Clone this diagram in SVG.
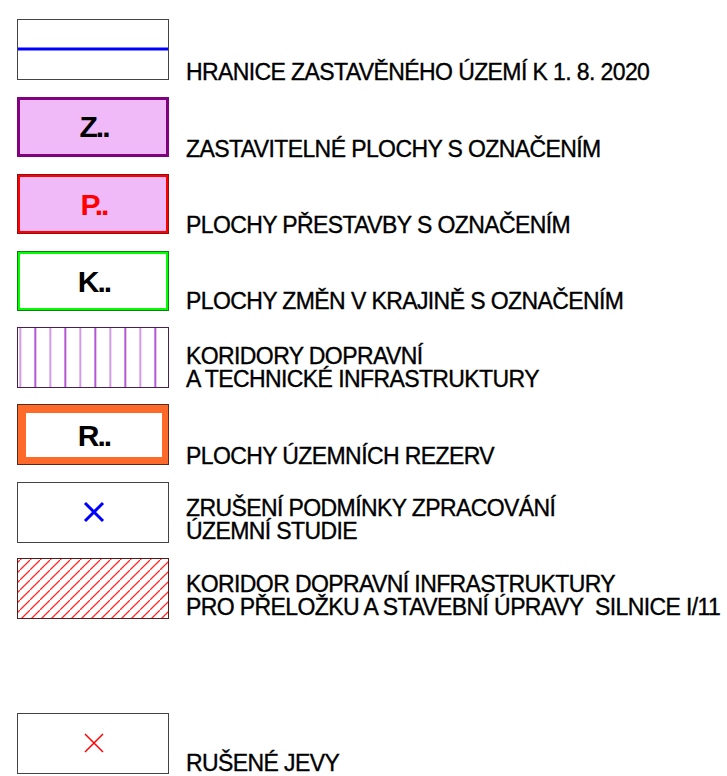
<svg xmlns="http://www.w3.org/2000/svg" width="727" height="776" viewBox="0 0 727 776">
<style>
.lbl{font-family:"Liberation Sans",Arial,sans-serif;font-size:23px;letter-spacing:-0.6px;fill:#000;stroke:#000;stroke-width:0.35px}
.code{font-family:"Liberation Sans",Arial,sans-serif;font-size:30px;font-weight:bold;letter-spacing:-2px;text-anchor:middle}
.frame{fill:#fff;stroke:#444;stroke-width:1}
</style>
<defs>
<pattern id="vh" x="4.5" y="0" width="30" height="10" patternUnits="userSpaceOnUse">
<rect x="0" y="0" width="1.5" height="10" fill="#9a1fc6"/>
<rect x="15" y="0" width="1.5" height="10" fill="#c47ada"/>
</pattern>
<pattern id="dh" x="0" y="0" width="10" height="10" patternUnits="userSpaceOnUse">
<line x1="-2" y1="12" x2="12" y2="-2" stroke="#ff2a2a" stroke-width="1.3"/>
</pattern>
</defs>
<g id="n1">
<rect class="frame" x="17.5" y="19.5" width="151" height="60"/>
<line x1="18" y1="49" x2="168" y2="49" stroke="#0000ff" stroke-width="3"/>
<text class="lbl" x="186" y="80">HRANICE ZASTAVĚNÉHO ÚZEMÍ K 1. 8. 2020</text>
</g>
<g id="n2">
<rect x="18.5" y="98.5" width="149" height="57" fill="#f0baf9" stroke="#800080" stroke-width="3"/>
<text class="code" x="94" y="137" fill="#000">Z..</text>
<text class="lbl" x="186" y="157">ZASTAVITELNÉ PLOCHY S OZNAČENÍM</text>
</g>
<g id="n3">
<rect x="18.5" y="175.5" width="149" height="57" fill="#f0baf9" stroke="#ff0000" stroke-width="3"/>
<rect x="17.5" y="174.5" width="151" height="59" fill="none" stroke="#6a1a1a" stroke-width="0.8"/>
<text class="code" x="94" y="215" fill="#ff0000">P..</text>
<text class="lbl" x="186" y="233">PLOCHY PŘESTAVBY S OZNAČENÍM</text>
</g>
<g id="n4">
<rect x="18.5" y="252.5" width="149" height="57" fill="#fff" stroke="#00ff00" stroke-width="3"/>
<rect x="17.5" y="251.5" width="151" height="59" fill="none" stroke="#1a5a1a" stroke-width="0.8"/>
<text class="code" x="94" y="292" fill="#000">K..</text>
<text class="lbl" x="186" y="309">PLOCHY ZMĚN V KRAJINĚ S OZNAČENÍM</text>
</g>
<g id="n5">
<rect x="17.5" y="327.5" width="151" height="60" fill="#fff"/>
<rect x="17.5" y="327.5" width="151" height="60" fill="url(#vh)" stroke="#4a2050" stroke-width="1"/>
<text class="lbl" x="186" y="364">KORIDORY DOPRAVNÍ</text>
<text class="lbl" x="186" y="387">A TECHNICKÉ INFRASTRUKTURY</text>
</g>
<g id="n6">
<rect x="17.5" y="404.5" width="151" height="60" fill="#ff6a2b" stroke="#5a2a1a" stroke-width="1"/>
<rect x="26" y="413" width="136" height="44" fill="#fff"/>
<text class="code" x="94" y="446" fill="#000">R..</text>
<text class="lbl" x="186" y="464">PLOCHY ÚZEMNÍCH REZERV</text>
</g>
<g id="n7">
<rect class="frame" x="17.5" y="482.5" width="151" height="60"/>
<path d="M85 503 L103 521 M103 503 L85 521" stroke="#0000ff" stroke-width="3" fill="none"/>
<text class="lbl" x="186" y="516">ZRUŠENÍ PODMÍNKY ZPRACOVÁNÍ</text>
<text class="lbl" x="186" y="539">ÚZEMNÍ STUDIE</text>
</g>
<g id="n8">
<rect x="17.5" y="558.5" width="151" height="60" fill="#fff"/>
<rect x="17.5" y="558.5" width="151" height="60" fill="url(#dh)" stroke="#5a1a1a" stroke-width="1"/>
<text class="lbl" x="186" y="592">KORIDOR DOPRAVNÍ INFRASTRUKTURY</text>
<text class="lbl" x="186" y="615">PRO PŘELOŽKU A STAVEBNÍ ÚPRAVY&#160; SILNICE I/11</text>
</g>
<g id="n9">
<rect class="frame" x="17.5" y="713.5" width="151" height="60"/>
<path d="M85 734 L103 752 M103 734 L85 752" stroke="#ff0000" stroke-width="1.5" fill="none"/>
<text class="lbl" x="186" y="771">RUŠENÉ JEVY</text>
</g>
<g id="connectors"/>
</svg>
